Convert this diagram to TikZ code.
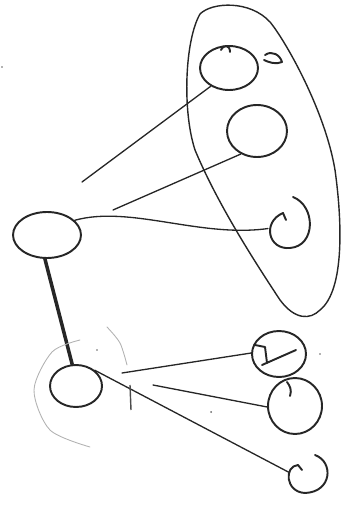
\documentclass[tikz,border=0pt]{standalone}
\usetikzlibrary{shapes.geometric}
\begin{document}
\begin{tikzpicture}[x=0.02cm,y=-0.02cm,
  pen/.style={line width=1.1pt,black!85,line cap=round,line join=round},
  blob/.style={ellipse,draw,pen,inner sep=0pt},
  curlnode/.style={ellipse,inner sep=0pt},
  faint/.style={line width=0.5pt,black!30,line cap=round},
  conn/.style={line width=0.75pt,black!85,line cap=round}]
\useasboundingbox (0,0) rectangle (350,506);
% nodes
\node[blob,minimum width=1.36cm,minimum height=0.92cm] (tl) at (47,235) {};
\node[blob,minimum width=1.04cm,minimum height=0.84cm] (bl) at (76,386) {};
\node[blob,minimum width=1.16cm,minimum height=0.88cm] (r1) at (229,68) {};
\node[blob,minimum width=1.20cm,minimum height=1.04cm] (r2) at (257,131) {};
\node[curlnode,minimum width=0.80cm,minimum height=0.96cm] (r3) at (288,225) {};
\node[blob,minimum width=1.08cm,minimum height=0.92cm] (lr1) at (279,354) {};
\node[blob,minimum width=1.08cm,minimum height=1.12cm] (lr2) at (295,406) {};
\node[curlnode,minimum width=0.80cm,minimum height=0.76cm] (lr3) at (309,474) {};
% curls
\draw[pen] (293,197) .. controls (316,206) and (316,246) .. (290,248)
  .. controls (268,250) and (262,222) .. (283,213) -- (286,220);
\draw[pen] (315,455) .. controls (334,462) and (332,492) .. (305,493)
  .. controls (285,492) and (284,466) .. (298,465) -- (302,470);
% little notches
\draw[pen] (221,50) .. controls (224,44) and (230,45) .. (230,52);
\draw[pen] (287,382) .. controls (290,386) and (292,390) .. (290,396);
% big outline
\draw[pen,line width=0.8pt] (200,14) .. controls (212,2) and (250,0) .. (270,22)
  .. controls (285,40) and (325,110) .. (335,170)
  .. controls (342,220) and (345,290) .. (320,310)
  .. controls (310,320) and (295,320) .. (280,300)
  .. controls (255,262) and (218,205) .. (195,150)
  .. controls (182,110) and (185,40) .. (200,14);
% small hook near top right
\draw[pen] (265,55) .. controls (272,50) and (280,55) .. (282,62)
  .. controls (276,65) and (268,62) .. (264,60);
% lower-right node inner marks
\draw[pen] (255,345) -- (265,347) -- (267,363);
\draw[pen] (262,365) -- (296,350);
% free ends
\coordinate (a1) at (82,182);
\coordinate (a2) at (113,210);
\coordinate (b1) at (122,373);
\coordinate (b2) at (153,385);
% connectors
\draw[conn] (a1) -- (r1.225);
\draw[conn] (a2) -- (r2.235);
\draw[conn] (tl.28) .. controls (130,205) and (200,238) .. (r3.190);
\draw[line width=2pt,black!85,line cap=round] (tl.265) -- (bl.100);
\draw[conn] (b1) -- (lr1.178);
\draw[conn] (b2) -- (lr2.182);
\draw[conn] (bl.40) -- (lr3.175);
% faint arcs around lower-left node
\draw[faint] plot[smooth] coordinates {(80,340) (52,352) (34,390) (50,430) (90,447)};
\draw[faint] plot[smooth] coordinates {(107,327) (120,343) (127,365)};
\draw[line width=0.8pt,black!70] (130,385) -- (131,410);
% specks
\fill[black!60] (97,350) circle (0.8);
\fill[black!60] (211,412) circle (1);
\fill[black!60] (320,354) circle (0.8);
\fill[black!60] (2,67) circle (0.8);
\end{tikzpicture}
\end{document}
